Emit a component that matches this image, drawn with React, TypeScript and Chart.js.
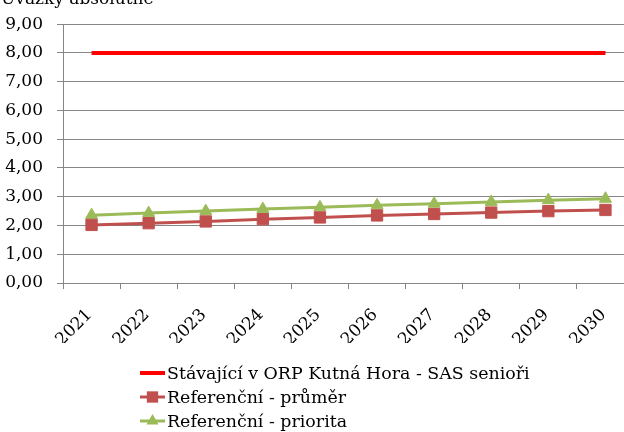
import React, { useEffect, useRef } from 'react';
import { Chart, registerables } from 'chart.js';

Chart.register(...registerables);

const TITLE = 'Úvazky absolutně';
const YEARS = ['2021', '2022', '2023', '2024', '2025', '2026', '2027', '2028', '2029', '2030'];
const SERIES_NAMES = [
  'Stávající v ORP Kutná Hora - SAS senioři',
  'Referenční - průměr',
  'Referenční - priorita',
];
const STAVAJICI = [8, 8, 8, 8, 8, 8, 8, 8, 8, 8];
const PRUMER = [2.02, 2.08, 2.14, 2.22, 2.28, 2.35, 2.4, 2.45, 2.5, 2.54];
const PRIORITA = [2.36, 2.43, 2.5, 2.57, 2.63, 2.7, 2.76, 2.82, 2.88, 2.93];
const Y_MIN = 0;
const Y_MAX = 9;
const Y_STEP = 1;

const FONT = "'DejaVu Serif', serif";
const GRID = '#868686';

const titlePlugin = {
  id: 'cutTitle',
  afterDraw(chart: any) {
    const ctx = chart.ctx;
    ctx.save();
    ctx.font = `17px ${FONT}`;
    ctx.fillStyle = '#000';
    ctx.textAlign = 'left';
    ctx.textBaseline = 'alphabetic';
    ctx.fillText(TITLE, 1, 4);
    ctx.restore();
  },
};

const legendPlugin = {
  id: 'stackLegend',
  afterDraw(chart: any) {
    const ctx = chart.ctx;
    ctx.save();
    chart.data.datasets.forEach((ds: any, i: number) => {
      const y = 373 + i * 24;
      const x0 = 140;
      const x1 = 165;
      ctx.strokeStyle = ds.borderColor;
      ctx.lineWidth = ds.borderWidth;
      ctx.beginPath();
      ctx.moveTo(x0, y);
      ctx.lineTo(x1, y);
      ctx.stroke();
      const cx = (x0 + x1) / 2;
      ctx.fillStyle = ds.pointBackgroundColor;
      if (ds.pointStyle === 'rect' && ds.pointRadius > 0) {
        const s = ds.pointRadius * Math.SQRT1_2;
        ctx.fillRect(cx - s, y - s, 2 * s, 2 * s);
      } else if (ds.pointStyle === 'triangle' && ds.pointRadius > 0) {
        const r = ds.pointRadius;
        ctx.beginPath();
        ctx.moveTo(cx, y - r);
        ctx.lineTo(cx + r * 0.866, y + r / 2);
        ctx.lineTo(cx - r * 0.866, y + r / 2);
        ctx.closePath();
        ctx.fill();
      }
      ctx.font = `17.4px ${FONT}`;
      ctx.fillStyle = '#000';
      ctx.textAlign = 'left';
      ctx.textBaseline = 'middle';
      ctx.fillText(ds.label, 167, y + 1);
    });
    ctx.restore();
  },
};

export default function App() {
  const ref = useRef<HTMLCanvasElement>(null);

  useEffect(() => {
    if (!ref.current) return;
    const chart = new Chart(ref.current, {
      type: 'line',
      data: {
        labels: YEARS,
        datasets: [
          {
            label: SERIES_NAMES[0],
            data: STAVAJICI,
            borderColor: '#FF0000',
            backgroundColor: '#FF0000',
            pointBackgroundColor: '#FF0000',
            borderWidth: 4,
            pointRadius: 0,
            pointStyle: 'line',
          },
          {
            label: SERIES_NAMES[1],
            data: PRUMER,
            borderColor: '#C0504D',
            backgroundColor: '#C0504D',
            pointBackgroundColor: '#C0504D',
            pointBorderColor: '#C0504D',
            borderWidth: 3,
            pointRadius: 8,
            pointBorderWidth: 1,
            pointStyle: 'rect',
          },
          {
            label: SERIES_NAMES[2],
            data: PRIORITA,
            borderColor: '#9BBB59',
            backgroundColor: '#9BBB59',
            pointBackgroundColor: '#9BBB59',
            pointBorderColor: '#9BBB59',
            borderWidth: 3,
            pointRadius: 7,
            pointBorderWidth: 1,
            pointStyle: 'triangle',
          },
        ],
      },
      options: {
        responsive: false,
        animation: false,
        devicePixelRatio: 1,
        layout: { padding: { top: 24, right: 18, bottom: 89, left: 0 } },
        plugins: {
          legend: { display: false },
          title: { display: false },
          tooltip: { enabled: false },
        },
        scales: {
          x: {
            offset: true,
            grid: {
              offset: true,
              drawOnChartArea: false,
              drawTicks: true,
              tickLength: 6,
              color: GRID,
            },
            border: { color: GRID, width: 1 },
            ticks: {
              minRotation: 45,
              maxRotation: 45,
              color: '#000',
              padding: 16,
              labelOffset: -2,
              font: { family: FONT, size: 17 },
            },
            afterFit: (s: any) => {
              s.height = 60;
            },
          },
          y: {
            min: Y_MIN,
            max: Y_MAX,
            ticks: {
              stepSize: Y_STEP,
              color: '#000',
              padding: 14,
              font: { family: FONT, size: 17 },
              callback: (v: any) => Number(v).toFixed(2).replace('.', ','),
            },
            grid: { color: GRID, tickLength: 6, drawTicks: true },
            border: { color: GRID, width: 1 },
            afterFit: (s: any) => {
              s.width = 63;
            },
          },
        },
      },
      plugins: [titlePlugin, legendPlugin],
    });
    return () => {
      chart.destroy();
    };
  }, []);

  return (
    <div
      style={{
        position: 'fixed',
        left: 0,
        top: 0,
        width: 624,
        height: 432,
        overflow: 'hidden',
        background: '#fff',
      }}
    >
      <canvas ref={ref} width={652} height={432} style={{ display: 'block', width: 652, height: 432 }} />
    </div>
  );
}
